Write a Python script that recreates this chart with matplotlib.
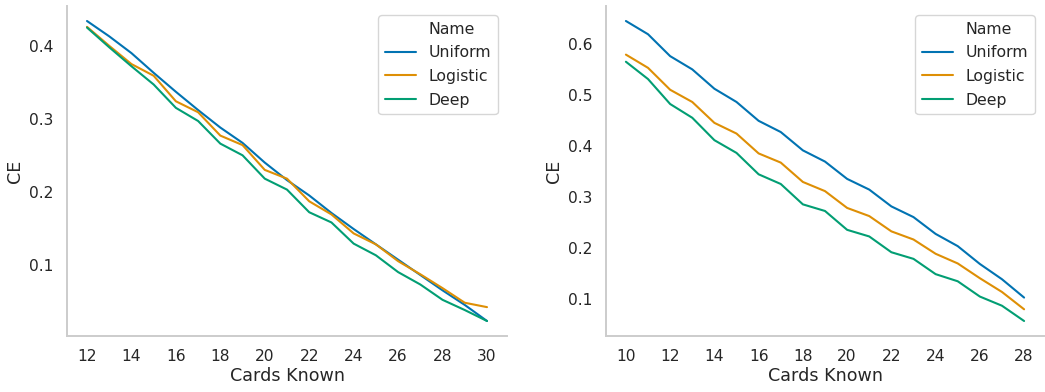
import matplotlib
matplotlib.use("Agg")
import matplotlib.pyplot as plt
import seaborn as sns
from matplotlib.lines import Line2D

sns.set_theme(context="notebook", style="whitegrid")
plt.rcParams['font.family'] = ['DejaVu Sans']

names = ["Uniform", "Logistic", "Deep"]
colors = ["#0173b2", "#de8f05", "#029e73"]

x_left = list(range(12, 31))
left_uniform = [0.434, 0.413, 0.390, 0.363, 0.337, 0.312, 0.288, 0.267, 0.240, 0.216, 0.195,
                0.171, 0.149, 0.128, 0.107, 0.086, 0.065, 0.045, 0.023]
left_logistic = [0.426, 0.400, 0.375, 0.359, 0.324, 0.309, 0.277, 0.264, 0.230, 0.218, 0.187,
                 0.169, 0.143, 0.128, 0.105, 0.087, 0.068, 0.048, 0.042]
left_deep = [0.425, 0.398, 0.372, 0.347, 0.315, 0.297, 0.266, 0.250, 0.218, 0.203, 0.172,
             0.158, 0.129, 0.113, 0.090, 0.073, 0.052, 0.038, 0.023]

x_right = list(range(10, 29))
right_uniform = [0.646, 0.620, 0.577, 0.551, 0.513, 0.487, 0.450, 0.428, 0.392, 0.370, 0.336,
                 0.315, 0.282, 0.261, 0.228, 0.204, 0.169, 0.139, 0.103]
right_logistic = [0.580, 0.554, 0.511, 0.487, 0.446, 0.425, 0.386, 0.368, 0.330, 0.312, 0.279,
                  0.263, 0.233, 0.217, 0.189, 0.170, 0.141, 0.114, 0.080]
right_deep = [0.566, 0.532, 0.483, 0.456, 0.412, 0.387, 0.345, 0.326, 0.286, 0.273, 0.236,
              0.223, 0.192, 0.179, 0.149, 0.135, 0.105, 0.087, 0.057]

left_xticks = [12, 14, 16, 18, 20, 22, 24, 26, 28, 30]
left_yticks = [0.1, 0.2, 0.3, 0.4]
right_xticks = [10, 12, 14, 16, 18, 20, 22, 24, 26, 28]
right_yticks = [0.1, 0.2, 0.3, 0.4, 0.5, 0.6]

W, H = 1045, 392
fig = plt.figure(figsize=(W / 100, H / 100), dpi=100)
ax1 = fig.add_axes([67 / W, 1 - 336 / H, (507 - 67) / W, (336 - 6) / H])
ax2 = fig.add_axes([606 / W, 1 - 336 / H, (1044 - 606) / W, (336 - 6) / H])

panels = [
    (ax1, x_left, [left_uniform, left_logistic, left_deep], left_xticks, left_yticks),
    (ax2, x_right, [right_uniform, right_logistic, right_deep], right_xticks, right_yticks),
]

for ax, xs, series, xt, yt in panels:
    for name, col, ys in zip(names, colors, series):
        ax.plot(xs, ys, color=col, lw=1.5, label=name)
    ax.grid(False)
    ax.set_xticks(xt)
    ax.set_yticks(yt)
    ax.tick_params(labelsize=11.2, colors="#262626")
    ax.set_xlabel("Cards Known", fontsize=12.6, labelpad=2)
    ax.set_ylabel("CE", fontsize=12.6)
    for s in ("left", "bottom"):
        ax.spines[s].set_color("#cccccc")
        ax.spines[s].set_linewidth(1.4)
    sns.despine(ax=ax)
    handles = [Line2D([], [], color="none")] + [Line2D([], [], color=c, lw=1.5) for c in colors]
    labels = ["Name"] + names
    ax.legend(handles, labels, loc="upper right", fontsize=11.3, labelspacing=0.55,
              borderaxespad=0.6)

fig.savefig("out.png", dpi=100)
